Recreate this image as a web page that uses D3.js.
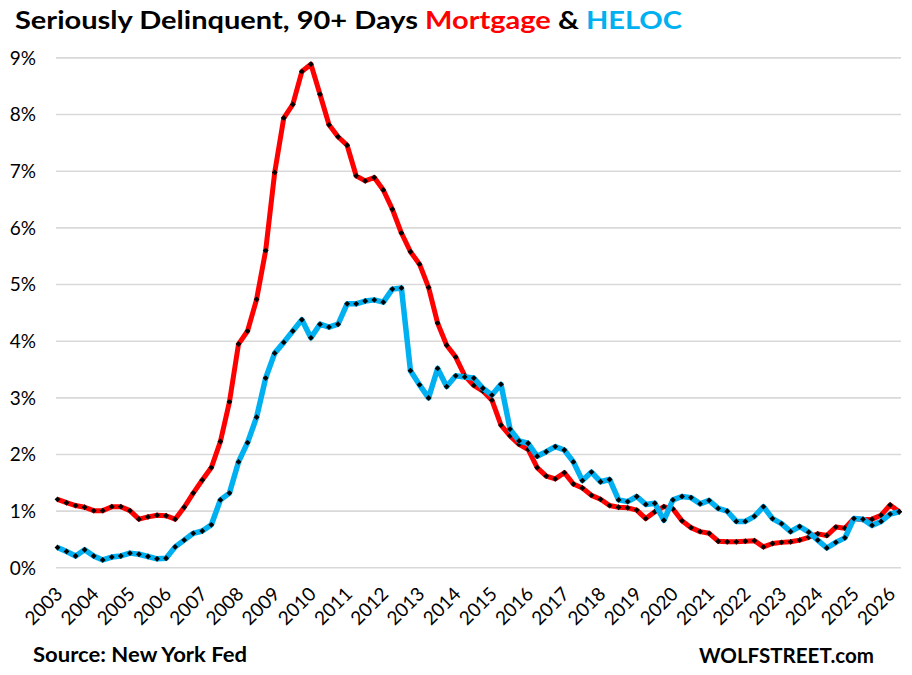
<!DOCTYPE html>
<html><head><meta charset="utf-8">
<script src="https://cdn.jsdelivr.net/npm/d3@7"></script>
<style>body{margin:0;background:#fff} svg{display:block}</style>
</head><body>
<svg id="c" width="912" height="675"></svg>
<script>
const years = ["2003","2004","2005","2006","2007","2008","2009","2010","2011","2012","2013","2014","2015","2016","2017","2018","2019","2020","2021","2022","2023","2024","2025","2026"];
const yTicks = [0,1,2,3,4,5,6,7,8,9];
// quarterly, starting 2003 Q1
const mortgage = [1.20,1.14,1.09,1.06,1.00,1.00,1.07,1.07,1.00,0.85,0.89,0.92,0.91,0.85,1.06,1.31,1.54,1.76,2.22,2.92,
  3.94,4.17,4.73,5.59,6.97,7.93,8.17,8.75,8.88,8.35,7.81,7.60,7.45,6.91,6.82,6.88,6.66,6.32,5.90,5.57,
  5.35,4.94,4.31,3.92,3.71,3.38,3.21,3.11,2.95,2.51,2.32,2.17,2.08,1.76,1.61,1.56,1.67,1.47,1.40,1.27,
  1.20,1.09,1.06,1.05,1.01,0.86,0.98,1.07,1.03,0.82,0.70,0.63,0.60,0.46,0.45,0.45,0.46,0.47,0.36,0.42,
  0.44,0.45,0.48,0.53,0.59,0.56,0.71,0.69,0.86,0.84,0.85,0.92,1.10,0.98];
const heloc = [0.35,0.28,0.20,0.31,0.20,0.13,0.18,0.20,0.25,0.23,0.19,0.15,0.16,0.36,0.48,0.60,0.64,0.75,1.19,1.31,
  1.86,2.20,2.65,3.34,3.78,3.97,4.17,4.37,4.05,4.29,4.24,4.29,4.65,4.65,4.70,4.72,4.68,4.91,4.93,3.47,
  3.22,2.99,3.51,3.19,3.38,3.36,3.34,3.16,3.04,3.23,2.44,2.23,2.19,1.96,2.04,2.13,2.07,1.86,1.53,1.68,
  1.51,1.55,1.19,1.16,1.25,1.11,1.13,0.83,1.19,1.25,1.23,1.12,1.18,1.04,0.99,0.81,0.81,0.90,1.07,0.86,
  0.77,0.63,0.72,0.62,0.48,0.34,0.44,0.52,0.86,0.85,0.74,0.81,0.94,0.98];
const titleParts = [["Seriously Delinquent, 90+ Days ","#000"],["Mortgage","#FF0000"],[" & ","#000"],["HELOC","#00B0F0"]];

const FONT = "Lato, 'Open Sans', sans-serif";
const svg = d3.select("#c");
const plotL = 56, plotR = 901;
const x = d3.scaleLinear().domain([0, mortgage.length - 1]).range([57.5, 899.2]);
const y = d3.scaleLinear().domain([0, 9]).range([567.3, 57.4]);

// y axis + gridlines
const ya = svg.append("g").attr("transform", `translate(${plotL},0)`)
  .call(d3.axisLeft(y).tickValues(yTicks).tickFormat(d => d + "%").tickSize(-(plotR - plotL)).tickPadding(20));
ya.select(".domain").remove();
ya.selectAll(".tick line").attr("stroke", "#D9D9D9").attr("stroke-width", 1.6);
ya.selectAll(".tick text").attr("font-family", FONT).attr("font-size", 19).attr("fill", "#000").attr("dy", "0.36em");

// x axis labels
const xa = svg.append("g").attr("transform", `translate(0,${y(0)})`)
  .call(d3.axisBottom(x).tickValues(years.map((d, i) => i * 4)).tickFormat((d, i) => years[i]).tickSize(0));
xa.select(".domain").remove();
xa.selectAll(".tick text").attr("font-family", FONT).attr("font-size", 19).attr("fill", "#000")
  .attr("x", 0).attr("y", 0).attr("dy", "0.36em").attr("text-anchor", "end")
  .attr("transform", "translate(1,23) rotate(-45)");

const line = d3.line().x((d, i) => x(i)).y(d => y(d));
const marker = d3.symbol(d3.symbolSquare, 17);

function series(data, color, w) {
  svg.append("path").datum(data).attr("d", line).attr("fill", "none")
    .attr("stroke", color).attr("stroke-width", w).attr("stroke-linejoin", "round");
  svg.append("g").selectAll("path").data(data).join("path")
    .attr("d", marker).attr("fill", "#000")
    .attr("transform", (d, i) => `translate(${x(i)},${y(d)}) rotate(45)`);
}
series(mortgage, "#FF0000", 5);
series(heloc, "#00B0F0", 5.5);

// title
const t = svg.append("text").attr("x", 15).attr("y", 29).attr("font-family", FONT)
  .attr("font-weight", 700).attr("font-size", 24).attr("textLength", 667).attr("lengthAdjust", "spacingAndGlyphs");
t.selectAll("tspan").data(titleParts).join("tspan").attr("fill", d => d[1]).text(d => d[0]).style("white-space", "pre");
t.attr("xml:space", "preserve");

svg.append("text").attr("x", 33).attr("y", 662).attr("font-family", FONT).attr("font-weight", 700)
  .attr("font-size", 21).attr("textLength", 214).attr("lengthAdjust", "spacingAndGlyphs").text("Source: New York Fed");
svg.append("text").attr("x", 699).attr("y", 663).attr("font-family", FONT).attr("font-weight", 700)
  .attr("font-size", 21).attr("textLength", 175).attr("lengthAdjust", "spacingAndGlyphs").text("WOLFSTREET.com");
</script>
</body></html>
